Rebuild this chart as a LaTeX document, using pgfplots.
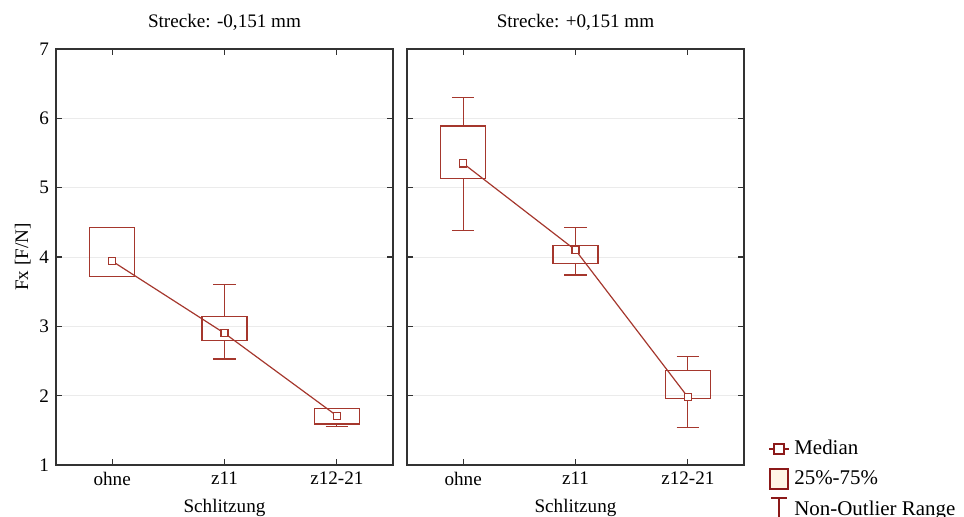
\documentclass[border=0pt]{standalone}
\usepackage{fontspec}
\setmainfont{Liberation Serif}
\usepackage{pgfplots}
\pgfplotsset{compat=1.18}
\usepgfplotslibrary{statistics}
\definecolor{boxred}{RGB}{165,55,45}
\definecolor{legred}{RGB}{140,25,25}
\definecolor{legfill}{RGB}{255,246,230}
\definecolor{framec}{RGB}{50,50,50}
\pgfplotsset{
 panel/.style={
  scale only axis, width=168.5bp, height=208bp,
  xmin=-0.5, xmax=2.5, ymin=1, ymax=7,
  xtick={0,1,2}, xticklabels={ohne,z11,z12-21},
  ytick={1,2,3,4,5,6,7},
  tick align=inside, major tick length=3bp,
  axis line style={framec, line width=0.6pt},
  tick style={framec, line width=0.6pt},
  ymajorgrids, grid style={black!8, line width=0.4pt},
  /pgf/number format/assume math mode=true,
  tick label style={font=\fontsize{9.6}{11}\selectfont},
  label style={font=\fontsize{9.6}{11}\selectfont},
  ylabel style={xshift=0bp, yshift=-2.5bp},
  title style={font=\fontsize{9.6}{11}\selectfont, yshift=0bp},
  xlabel={Schlitzung},
  boxplot/draw direction=y,
  boxplot/box extend=0.4, boxplot/whisker extend=0.2,
  boxplot/draw/median/.code={},
 },
 bx/.style={boxred, line width=0.6pt, solid, mark=none},
 md/.style={boxred, line width=0.6pt, mark=square*, mark size=1.8pt, mark options={fill=white, solid}},
}
\begin{document}
\begin{tikzpicture}
\useasboundingbox (0,0) rectangle (482bp,258.5bp);
\begin{axis}[panel, at={(28bp,26bp)}, anchor=south west,
  title={Strecke: -0,151 mm}, ylabel={Fx [F/N]}]
\addplot[bx, boxplot prepared={draw position=0, lower whisker=3.72, lower quartile=3.72, median=3.94, upper quartile=4.42, upper whisker=4.42}] coordinates {};
\addplot[bx, boxplot prepared={draw position=1, lower whisker=2.53, lower quartile=2.80, median=2.90, upper quartile=3.14, upper whisker=3.60}] coordinates {};
\addplot[bx, boxplot prepared={draw position=2, lower whisker=1.55, lower quartile=1.59, median=1.71, upper quartile=1.81, upper whisker=1.81}] coordinates {};
\addplot[md] coordinates {(0,3.94) (1,2.90) (2,1.71)};
\end{axis}
\begin{axis}[panel, at={(203.5bp,26bp)}, anchor=south west,
  title={Strecke: +0,151 mm}, yticklabels={},
  legend style={draw=none, fill=none, at={(1,0)}, anchor=north west, xshift=12bp, yshift=14.5bp,
    font=\fontsize{10.5}{12}\selectfont, row sep=2.5bp, inner sep=0pt},
  legend cell align=left]
\addlegendimage{legend image code/.code={\draw[legred, line width=1pt] (0bp,0bp)--(10bp,0bp); \draw[legred, line width=1pt, fill=white] (2.5bp,-2.5bp) rectangle (7.5bp,2.5bp);}}
\addlegendentry{Median}
\addlegendimage{legend image code/.code={\draw[legred, line width=1pt, fill=legfill] (0.5bp,-5bp) rectangle (9.5bp,5bp);}}
\addlegendentry{25\%-75\%}
\addlegendimage{legend image code/.code={\draw[legred, line width=1pt] (1bp,6bp)--(9bp,6bp) (5bp,6bp)--(5bp,-7bp) (1bp,-7bp)--(9bp,-7bp);}}
\addlegendentry{Non-Outlier Range}
\addplot[bx, boxplot prepared={draw position=0, lower whisker=4.38, lower quartile=5.13, median=5.35, upper quartile=5.89, upper whisker=6.30}] coordinates {};
\addplot[bx, boxplot prepared={draw position=1, lower whisker=3.74, lower quartile=3.91, median=4.10, upper quartile=4.17, upper whisker=4.43}] coordinates {};
\addplot[bx, boxplot prepared={draw position=2, lower whisker=1.54, lower quartile=1.96, median=1.98, upper quartile=2.36, upper whisker=2.57}] coordinates {};
\addplot[md] coordinates {(0,5.35) (1,4.10) (2,1.98)};
\end{axis}
\end{tikzpicture}
\end{document}
